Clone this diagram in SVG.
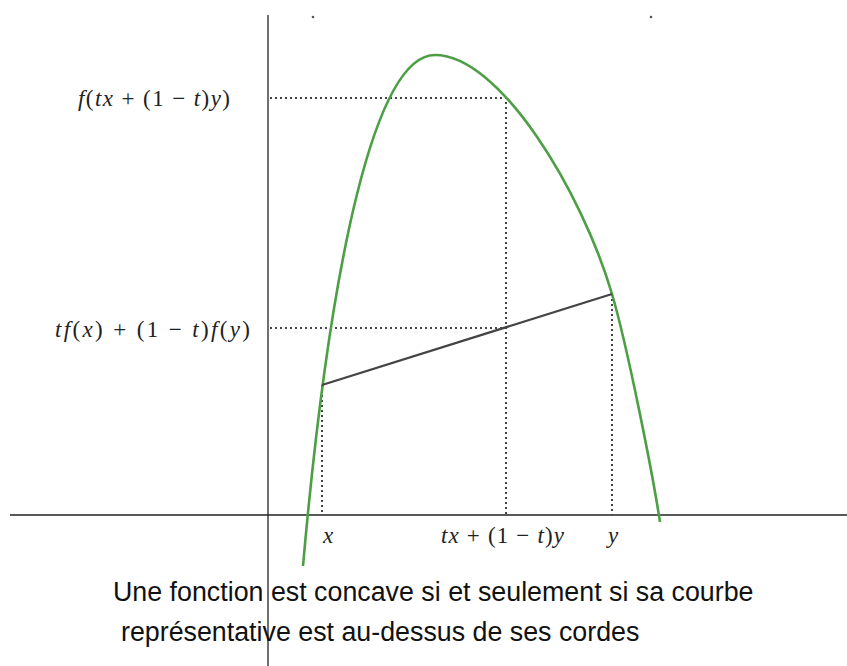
<svg xmlns="http://www.w3.org/2000/svg" width="847" height="666" viewBox="0 0 847 666">
<style>
.axis{stroke:#222;stroke-width:1.3;fill:none}
.dot{stroke:#444;stroke-width:2;stroke-dasharray:2 3;fill:none}
.curve{stroke:#4c9f45;stroke-width:2.6;fill:none}
.chord{stroke:#444;stroke-width:2.2;fill:none}
.m{font-family:"Liberation Serif","DejaVu Serif",serif;font-size:23px;fill:#222}
.i{font-style:italic}
.cap{font-family:"Liberation Sans",Arial,sans-serif;font-size:26.8px;fill:#111}
</style>
<rect width="847" height="666" fill="#fff"/>
<g id="axes">
<line class="axis" x1="10" y1="515" x2="847" y2="515"/>
<line class="axis" x1="268" y1="15" x2="268" y2="666"/>
<circle cx="313" cy="17" r="1.3" fill="#555"/>
<circle cx="651" cy="17" r="1.3" fill="#555"/>
</g>
<g id="connectors">
<polyline class="dot" points="270,98 506,98 506,515"/>
<polyline class="dot" points="270,328 506,328"/>
<line class="dot" x1="322" y1="385" x2="322" y2="515"/>
<line class="dot" x1="612" y1="294" x2="612" y2="515"/>
</g>
<g id="curve">
<path class="curve" d="M303,566 C330,260 375,55 435,55 C500,55 582,192 612,294 C627,345 652,470 660,522"/>
</g>
<g id="chord">
<line class="chord" x1="322" y1="385" x2="612" y2="294"/>
</g>
<g id="label-ftx">
<text class="m" x="78" y="106" textLength="152" lengthAdjust="spacing"><tspan class="i">f</tspan>(<tspan class="i">tx</tspan> + (1 − <tspan class="i">t</tspan>)<tspan class="i">y</tspan>)</text>
</g>
<g id="label-chord">
<text class="m" x="55" y="337" textLength="195" lengthAdjust="spacing"><tspan class="i">tf</tspan>(<tspan class="i">x</tspan>) + (1 − <tspan class="i">t</tspan>)<tspan class="i">f</tspan>(<tspan class="i">y</tspan>)</text>
</g>
<g id="label-x"><text class="m i" x="323" y="543">x</text></g>
<g id="label-mid"><text class="m" x="441" y="543" textLength="123" lengthAdjust="spacing"><tspan class="i">tx</tspan> + (1 − <tspan class="i">t</tspan>)<tspan class="i">y</tspan></text></g>
<g id="label-y"><text class="m i" x="608" y="543">y</text></g>
<g id="caption">
<text class="cap" x="113" y="601">Une fonction est concave si et seulement si sa courbe</text>
<text class="cap" x="121" y="641">représentative est au-dessus de ses cordes</text>
</g>
</svg>
